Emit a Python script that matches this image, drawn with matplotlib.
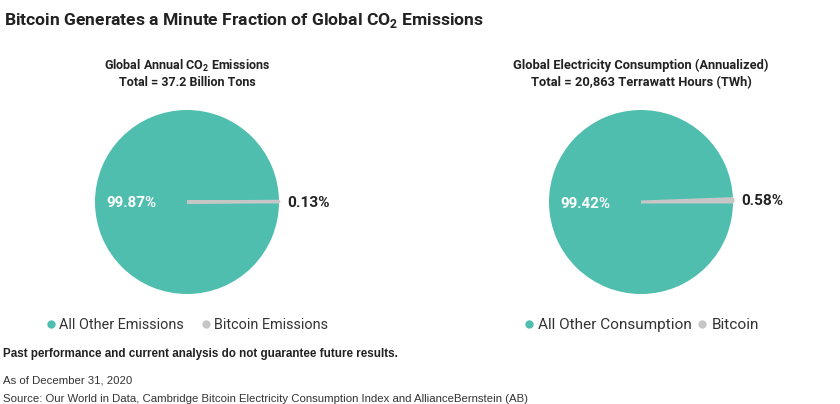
import matplotlib
matplotlib.use('Agg')
import numpy as np
import matplotlib.pyplot as plt
from matplotlib import font_manager as fm
from matplotlib.lines import Line2D

# ---- data ----
title = r'Bitcoin Generates a Minute Fraction of Global CO$_\mathregular{2}$ Emissions'
co2_title = [r'Global Annual CO$_\mathregular{2}$ Emissions', 'Total = 37.2 Billion Tons']
elec_title = ['Global Electricity Consumption (Annualized)', 'Total = 20,863 Terrawatt Hours (TWh)']
co2_labels = ['All Other Emissions', 'Bitcoin Emissions']
co2_values = [99.87, 0.13]
elec_labels = ['All Other Consumption', 'Bitcoin']
elec_values = [99.42, 0.58]
footer_bold = 'Past performance and current analysis do not guarantee future results.'
footer_lines = ['As of December 31, 2020',
                'Source: Our World in Data, Cambridge Bitcoin Electricity Consumption Index and AllianceBernstein (AB)']

TEAL = '#4FBEAE'
GREY = '#C6C6C6'
DARK = '#222222'

W, H = 840, 404
fig = plt.figure(figsize=(W / 100, H / 100), dpi=100)
fig.patch.set_facecolor('white')
renderer = fig.canvas.get_renderer()


def avail(name):
    try:
        fm.findfont(fm.FontProperties(family=name), fallback_to_default=False)
        return True
    except Exception:
        return False


COND = 'Liberation Sans Narrow' if avail('Liberation Sans Narrow') else 'Roboto'
BODY = 'Liberation Sans'


def fx(x):
    return x / W


def fy(y):
    return 1 - y / H


def fit(t, target):
    w = t.get_window_extent(renderer).width
    t.set_fontsize(t.get_fontsize() * target / w)
    return t.get_fontsize()


def measure_size(s, family, weight, target):
    t = fig.text(0, 0, s, family=family, weight=weight, fontsize=10)
    size = fit(t, target)
    t.remove()
    return size


# title
t = fig.text(fx(3.5), fy(25.5), title, family=COND, weight='bold', fontsize=16,
             color=DARK, va='baseline', ha='left')
fit(t, 480)


def draw_pie(cx, r, values, labels, heads, head_w, leg_spacing):
    ax = fig.add_axes([fx(cx - r), (H - (202 + r)) / H, 2 * r / W, 2 * r / H])
    wedges, _ = ax.pie(values, colors=[TEAL, GREY], startangle=0, counterclock=False,
                       radius=1, wedgeprops=dict(linewidth=0))
    wedges[1].set_edgecolor(GREY)
    wedges[1].set_linewidth(2.2)
    wedges[1].set_joinstyle('bevel')
    ax.set_xlim(-1, 1)
    ax.set_ylim(-1, 1)
    ax.set_aspect('equal')
    ax.axis('off')
    # value labels
    for i, w in enumerate(wedges):
        th = np.deg2rad((w.theta1 + w.theta2) / 2)
        if i == 0:
            tt = ax.text(0.6 * np.cos(th), 0.6 * np.sin(th) - 0.01, f'{values[i]:.2f}%',
                         ha='center', va='center', color='white', weight='bold',
                         family=COND, fontsize=11)
            fit(tt, 50)
        else:
            tt = ax.text(1.085 * np.cos(th), 1.085 * np.sin(th) - 0.01, f'{values[i]:.2f}%',
                         ha='left', va='center', color=DARK, weight='bold',
                         family=COND, fontsize=11)
            fit(tt, 42)
    # headings
    h1 = fig.text(fx(cx), fy(69.5), heads[0], ha='center', va='baseline', family=COND,
                  weight='bold', fontsize=9, color=DARK)
    s = fit(h1, head_w)
    fig.text(fx(cx), fy(86.5), heads[1], ha='center', va='baseline', family=COND,
             weight='bold', fontsize=s, color=DARK)
    # legend
    size = measure_size(labels[0], COND, 'normal', leg_spacing[0])
    handles = [Line2D([], [], marker='o', ls='', markersize=6, color=c, markeredgewidth=0)
               for c in (TEAL, GREY)]
    leg = ax.legend(handles, labels, loc='center', bbox_to_anchor=(0.5, (202 + r - 325) / (2 * r)),
                    ncol=2, frameon=False, handlelength=0.7, handletextpad=0.25,
                    columnspacing=leg_spacing[1], borderaxespad=0, borderpad=0,
                    prop=dict(family=COND, size=size))
    for tx in leg.get_texts():
        tx.set_color('#333333')
    return ax


draw_pie(187, 92, co2_values, co2_labels, co2_title, 167, (125, 1.15))
draw_pie(641, 92, elec_values, elec_labels, elec_title, 256, (154, 0.35))

# footer
fb = fig.text(fx(3), fy(357), footer_bold, family=BODY, weight='bold', fontsize=8,
              color=DARK, va='baseline')
fit(fb, 398)
fs = fig.text(fx(3), fy(402), footer_lines[1], family=BODY, fontsize=8, color='#333333',
              va='baseline')
s = fit(fs, 527)
fig.text(fx(3), fy(383.5), footer_lines[0], family=BODY, fontsize=s, color='#333333',
         va='baseline')

fig.savefig('out.png', dpi=100, facecolor='white')
